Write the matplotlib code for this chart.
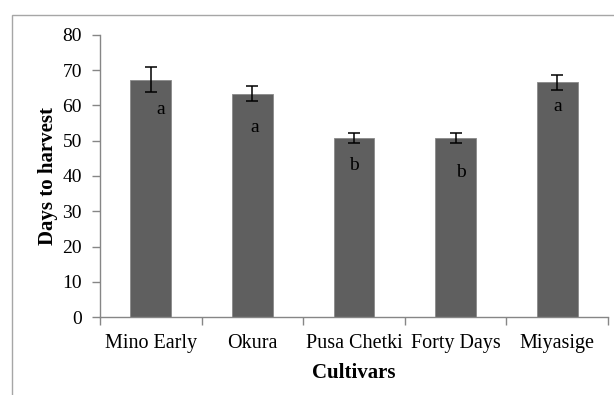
import matplotlib
matplotlib.use("Agg")
import matplotlib.pyplot as plt
from matplotlib.patches import Rectangle
from matplotlib.ticker import FixedLocator, NullFormatter

cultivars = ["Mino Early", "Okura", "Pusa Chetki", "Forty Days", "Miyasige"]
days = [67.3, 63.3, 50.8, 50.8, 66.5]
errors = [3.5, 2.2, 1.5, 1.5, 2.1]
letters = ["a", "a", "b", "b", "a"]
letter_y = [58.7, 53.6, 42.9, 41.1, 59.7]
letter_dx = [0.1, 0.02, 0.0, 0.05, 0.0]

plt.rcParams["font.family"] = ["Liberation Serif", "DejaVu Serif"]

fig = plt.figure(figsize=(6.14, 3.95), dpi=100)
fig.patch.set_facecolor("white")

# outer chart-area border (extends past right/bottom edges)
fig.patches.append(Rectangle((11.7 / 614, -0.1), 1.2, 1 - 15 / 395 + 0.1,
                             transform=fig.transFigure, fill=False,
                             edgecolor="#a6a6a6", linewidth=1.0))

ax = fig.add_axes([100 / 614, 1 - 317.3 / 395, 508 / 614, (317.3 - 34.7) / 395])

x = list(range(len(cultivars)))
ax.bar(x, days, width=0.4, color="#5f5f5f", edgecolor="#8a8a8a", linewidth=0.6, zorder=2)
ax.errorbar(x, days, yerr=errors, fmt="none", ecolor="black", elinewidth=1.1,
            capsize=4, capthick=1.1, zorder=3)

for xi, dx, ly, lt in zip(x, letter_dx, letter_y, letters):
    ax.text(xi + dx, ly, lt, ha="center", va="center", fontsize=14, color="black", zorder=4)

ax.set_xlim(-0.5, len(cultivars) - 0.5)
ax.set_ylim(0, 80)
ax.set_yticks(range(0, 81, 10))
ax.set_xticks(x)
ax.set_xticklabels(cultivars, fontsize=14.5)
ax.tick_params(axis="x", which="major", length=0, pad=12)
ax.xaxis.set_minor_locator(FixedLocator([i - 0.5 for i in range(len(cultivars) + 1)]))
ax.xaxis.set_minor_formatter(NullFormatter())
ax.tick_params(axis="x", which="minor", length=6, color="#868686", width=1.0)
ax.tick_params(axis="y", length=6, color="#868686", width=1.0, labelsize=14, pad=7)

for s in ["top", "right"]:
    ax.spines[s].set_visible(False)
for s in ["left", "bottom"]:
    ax.spines[s].set_color("#868686")
    ax.spines[s].set_linewidth(1.0)

ax.set_ylabel("Days to harvest", fontsize=15, fontweight="bold", labelpad=3)
ax.set_xlabel("Cultivars", fontsize=15, fontweight="bold", labelpad=7)

fig.savefig("out.png", dpi=100)
